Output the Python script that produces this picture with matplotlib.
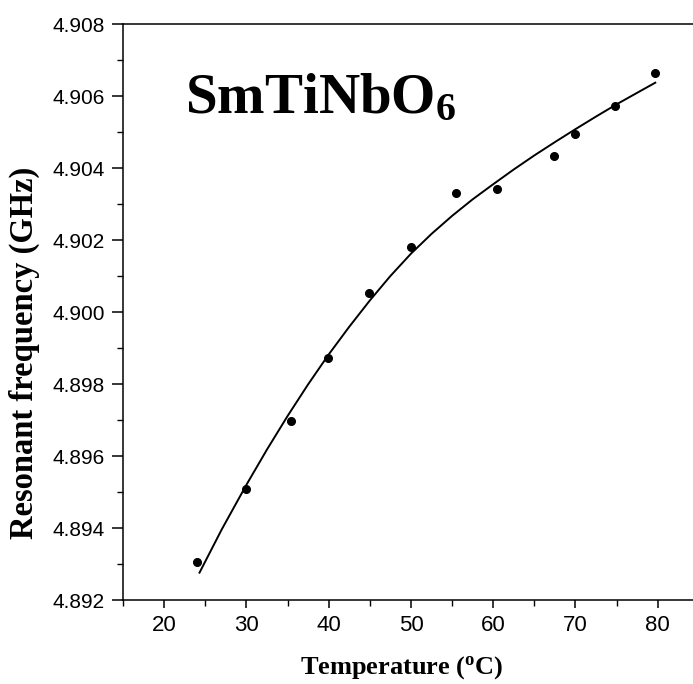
import numpy as np
import matplotlib
matplotlib.use("Agg")
import matplotlib.pyplot as plt
from matplotlib.ticker import MultipleLocator, FormatStrFormatter

# measured points
temp = [24.0, 29.9, 35.45, 39.95, 44.96, 50.0, 55.5, 60.45, 67.4, 69.9, 74.8, 79.7]
freq = [4.89306, 4.89508, 4.89698, 4.89871, 4.90052, 4.90181, 4.90331,
        4.90342, 4.90432, 4.90494, 4.90573, 4.90665]

# fitted curve
fit_t = [24.3, 27, 30, 32.5, 35, 37.5, 40, 42.5, 45, 47.5, 50, 52.5, 55,
         57.5, 60, 62.5, 65, 67.5, 70, 72.5, 75, 77.5, 79.7]
fit_f = [4.89276, 4.89396, 4.89520, 4.89618, 4.89711, 4.89799, 4.89882,
         4.89959, 4.90032, 4.90100, 4.90162, 4.90217, 4.90267, 4.90313,
         4.90355, 4.90396, 4.90435, 4.90472, 4.90508, 4.90543, 4.90577,
         4.90609, 4.90637]

plt.rcParams['mathtext.fontset'] = 'custom'
plt.rcParams['mathtext.rm'] = 'Liberation Serif:bold'
plt.rcParams['mathtext.it'] = 'Liberation Serif:bold'
plt.rcParams['mathtext.bf'] = 'Liberation Serif:bold'

fig = plt.figure(figsize=(6.93, 6.84), dpi=100)
ax = fig.add_axes([0.1775, 0.1228, 0.831, 0.8421])

ax.plot(fit_t, fit_f, color='black', lw=1.4, solid_joinstyle='round')
ax.plot(temp, freq, 'o', color='black', ms=5.5)

ax.set_xlim(15, 85)
ax.set_ylim(4.892, 4.908)
ax.xaxis.set_major_locator(MultipleLocator(10))
ax.xaxis.set_minor_locator(MultipleLocator(5))
ax.yaxis.set_major_locator(MultipleLocator(0.002))
ax.yaxis.set_minor_locator(MultipleLocator(0.001))
ax.yaxis.set_major_formatter(FormatStrFormatter('%.3f'))

for s in ax.spines.values():
    s.set_linewidth(1.1)
ax.spines['right'].set_visible(False)

ax.tick_params(axis='x', which='major', direction='out', length=6, width=1.1,
               labelsize=16, pad=5)
ax.tick_params(axis='y', which='major', direction='out', length=8, width=1.1,
               labelsize=15, pad=5)
ax.tick_params(which='minor', direction='out', length=4, width=1.0)
for lab in ax.get_xticklabels() + ax.get_yticklabels():
    lab.set_family('Liberation Sans')

ax.set_xlabel(r'Temperature ($^\mathrm{o}$C)', family='Liberation Serif',
              weight='bold', fontsize=19)
ax.set_ylabel('Resonant frequency (GHz)', family='Liberation Serif',
              weight='bold', fontsize=23.5)
ax.xaxis.set_label_coords(0.484, -0.094)
ax.yaxis.set_label_coords(-0.144, 0.429)

ax.text(0.108, 0.845, r'SmTiNbO$_\mathrm{6}$', transform=ax.transAxes,
        family='Liberation Serif', weight='bold', fontsize=41)

fig.savefig('out.png', dpi=100)
